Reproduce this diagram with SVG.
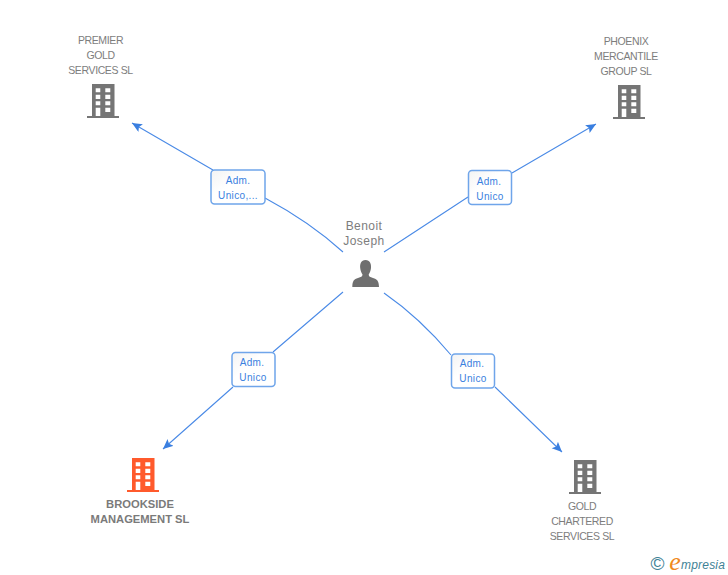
<svg xmlns="http://www.w3.org/2000/svg" width="728" height="575" viewBox="0 0 728 575">
<style>
text{font-family:"Liberation Sans",Arial,sans-serif;text-anchor:middle}
.n{font-size:10.5px;fill:#7d7d7d;letter-spacing:-.38px}
.b{font-size:11.2px;font-weight:bold;fill:#7a7a7a}
.p{font-size:12px;fill:#7d7d7d;letter-spacing:.45px}
.l{font-size:10px;fill:#3a7fe0;letter-spacing:.35px}
.box{fill:url(#g);stroke:#6fa5ea;stroke-width:1.5}
.c{fill:none;stroke:#4a8ae6;stroke-width:1.1}
</style>
<defs>
<linearGradient id="g" x1="0" y1="0" x2="1" y2="1"><stop offset="0" stop-color="#f3f3f3"/><stop offset=".4" stop-color="#fff"/></linearGradient>
<marker id="a" markerUnits="userSpaceOnUse" markerWidth="12" markerHeight="10" refX="10" refY="4.500" orient="auto"><path d="M0 0L10 4.500L0 9L2 4.500Z" fill="#3a7fe0"/></marker>
<symbol id="bld" width="32" height="34" viewBox="0 0 32 34" overflow="visible">
<path fill-rule="evenodd" d="M5 0H27.500V32H32V34H0V32H5ZM8.700 4.300V8.300H13.300V4.300ZM18.300 4.300V8.300H23.300V4.300ZM8.700 10.700V15H13.300V10.700ZM18.300 10.700V15H23.300V10.700ZM8.700 17.300V21.300H13.300V17.300ZM18.300 17.300V21.300H23.300V17.300ZM8.700 23.700V32H13.300V23.700ZM18.300 23.700V28H23.300V23.700Z"/>
</symbol>
</defs>
<rect width="728" height="575" fill="#fff"/>
<g id="connectors">
<path class="c" d="M343 252Q310 222 265 198M213 170L132 123" marker-end="url(#a)"/>
<path class="c" d="M384 252L468 197M512 173L596 124" marker-end="url(#a)"/>
<path class="c" d="M343 292L273 352M233 387L163 449" marker-end="url(#a)"/>
<path class="c" d="M384 293Q420 318 451 355M495 387L562 452" marker-end="url(#a)"/>
</g>
<g id="edge-label-1"><rect class="box" x="211" y="170" width="54" height="34" rx="3.500"/><text class="l" x="238" y="183.500">Adm.</text><text class="l" x="238" y="198.500">Unico,...</text></g>
<g id="edge-label-2"><rect class="box" x="468.500" y="170.500" width="43" height="34" rx="3.500"/><text class="l" x="489" y="184.500">Adm.</text><text class="l" x="490" y="199.500">Unico</text></g>
<g id="edge-label-3"><rect class="box" x="232" y="352.500" width="43" height="34" rx="3.500"/><text class="l" x="252" y="365.500">Adm.</text><text class="l" x="253" y="380.500">Unico</text></g>
<g id="edge-label-4"><rect class="box" x="451.500" y="354" width="43" height="34" rx="3.500"/><text class="l" x="472" y="367">Adm.</text><text class="l" x="473" y="382">Unico</text></g>
<g id="node-person">
<text class="p" x="364" y="230">Benoit</text><text class="p" x="364" y="245">Joseph</text>
<path fill="#6f6f6f" d="M365.500 260C361 260 359.800 264 360.200 268C360.500 271 361.500 273 362.500 274.500C362.500 276.500 361 277 358 278C354 279.300 352.500 280.500 352.300 287H379C378.800 280.500 377 279.300 373 278C370 277 368.700 276.500 368.700 274.500C369.700 273 370.700 271 371 268C371.400 264 370 260 365.500 260Z"/>
</g>
<g id="node-premier">
<use href="#bld" x="87" y="84" fill="#757575"/>
<text class="n" x="100.500" y="44">PREMIER</text><text class="n" x="100.500" y="59">GOLD</text><text class="n" x="100.500" y="74">SERVICES SL</text>
</g>
<g id="node-phoenix">
<use href="#bld" x="613" y="85" fill="#757575"/>
<text class="n" x="626" y="45">PHOENIX</text><text class="n" x="626" y="60">MERCANTILE</text><text class="n" x="626" y="75">GROUP SL</text>
</g>
<g id="node-brookside">
<use href="#bld" x="127" y="458" fill="#ff5a2c"/>
<text class="b" x="140" y="508">BROOKSIDE</text><text class="b" x="140" y="523">MANAGEMENT SL</text>
</g>
<g id="node-gold">
<use href="#bld" x="569" y="460" fill="#757575"/>
<text class="n" x="582" y="510">GOLD</text><text class="n" x="582" y="525">CHARTERED</text><text class="n" x="582" y="540">SERVICES SL</text>
</g>
<g id="logo">
<text x="657.500" y="570" style="font-size:19px;fill:#3f8296">©</text>
<text x="675" y="570" style="font-size:26px;font-style:italic;fill:#f08a1d;font-family:'Liberation Serif',serif">e</text>
<text x="681" y="569" style="font-size:12px;font-style:italic;fill:#3f8296;letter-spacing:.2px;text-anchor:start">mpresia</text>
</g>
</svg>
